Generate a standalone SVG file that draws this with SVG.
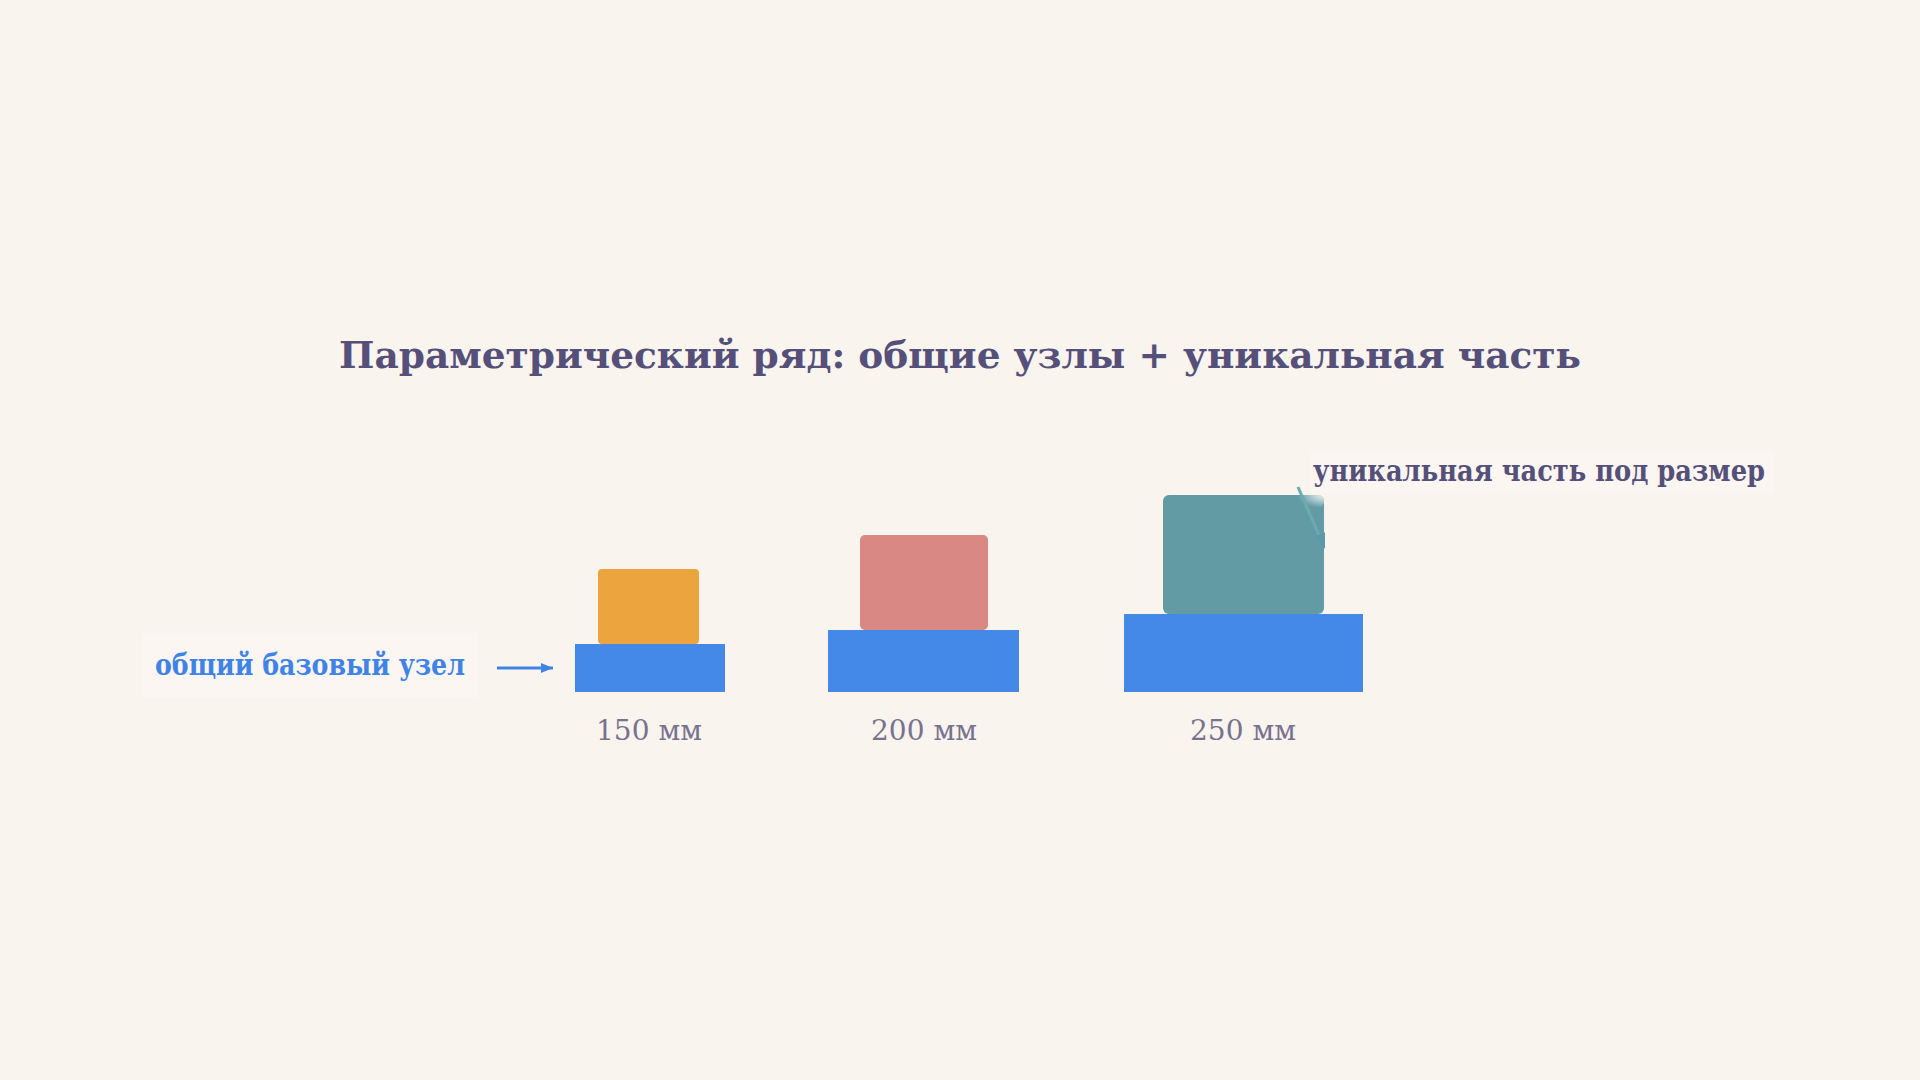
<svg xmlns="http://www.w3.org/2000/svg" width="1920" height="1080" viewBox="0 0 1920 1080">
  <style>
    .title { font-family: "DejaVu Serif", "Liberation Serif", serif; font-weight: bold; font-size: 38px; fill: #55507a; }
    .note { font-family: "DejaVu Serif", "Liberation Serif", serif; font-weight: bold; font-size: 30px; }
    .size { font-family: "DejaVu Serif", "Liberation Serif", serif; font-size: 28px; fill: #78728f; }
    .base { fill: #4589e8; }
    .notebg { fill: #fbf6f1; }
  </style>
  <defs>
    <radialGradient id="glow" cx="1" cy="0" r="1">
      <stop offset="0" stop-color="#ffffff" stop-opacity="0.9"/>
      <stop offset="1" stop-color="#ffffff" stop-opacity="0"/>
    </radialGradient>
    <marker id="arrBlue" viewBox="0 0 12 10" refX="12" refY="5" markerWidth="12" markerHeight="10" markerUnits="userSpaceOnUse" orient="auto">
      <path d="M0,0 L12,5 L0,10 Z" fill="#3f83e6"/>
    </marker>
    <clipPath id="clipTeal">
      <rect x="1250" y="470" width="75" height="100"/>
    </clipPath>
  </defs>
  <rect width="1920" height="1080" fill="#faf4ee"/>

  <g id="title">
    <text class="title" x="960" y="368" text-anchor="middle" textLength="1242" lengthAdjust="spacingAndGlyphs">Параметрический ряд: общие узлы + уникальная часть</text>
  </g>

  <g id="size-150">
    <rect class="base" x="575" y="644" width="150" height="48"/>
    <rect x="598" y="569" width="101" height="75" rx="4" fill="#eca43f"/>
    <text class="size" x="649" y="740" text-anchor="middle">150 мм</text>
  </g>

  <g id="size-200">
    <rect class="base" x="828" y="630" width="191" height="62"/>
    <rect x="860" y="535" width="128" height="95" rx="5" fill="#da8883"/>
    <text class="size" x="924" y="740" text-anchor="middle">200 мм</text>
  </g>

  <g id="size-250">
    <rect class="base" x="1124" y="614" width="239" height="78"/>
    <rect x="1163" y="495" width="161" height="119" rx="6" fill="#629ba4"/>
    <rect x="1297" y="495" width="27" height="13" rx="6" fill="url(#glow)"/>
    <text class="size" x="1243" y="740" text-anchor="middle">250 мм</text>
  </g>

  <g id="label-base">
    <rect class="notebg" x="141" y="633" width="336" height="65"/>
    <text class="note" x="155" y="675" fill="#3f83e6" textLength="310" lengthAdjust="spacingAndGlyphs">общий базовый узел</text>
  </g>

  <g id="label-unique">
    <rect class="notebg" x="1310" y="452" width="464" height="41"/>
    <text class="note" x="1313" y="481" fill="#55507a" textLength="452" lengthAdjust="spacingAndGlyphs">уникальная часть под размер</text>
  </g>

  <g id="connectors">
    <line x1="497" y1="668" x2="553" y2="668" stroke="#3f83e6" stroke-width="3" marker-end="url(#arrBlue)"/>
    <g clip-path="url(#clipTeal)">
      <line x1="1298" y1="487" x2="1319" y2="535" stroke="#6aaab3" stroke-width="3"/>
      <polygon points="1327,551 1325.1,532.1 1314.1,537.1" fill="#5a9aa8"/>
    </g>
  </g>
</svg>
